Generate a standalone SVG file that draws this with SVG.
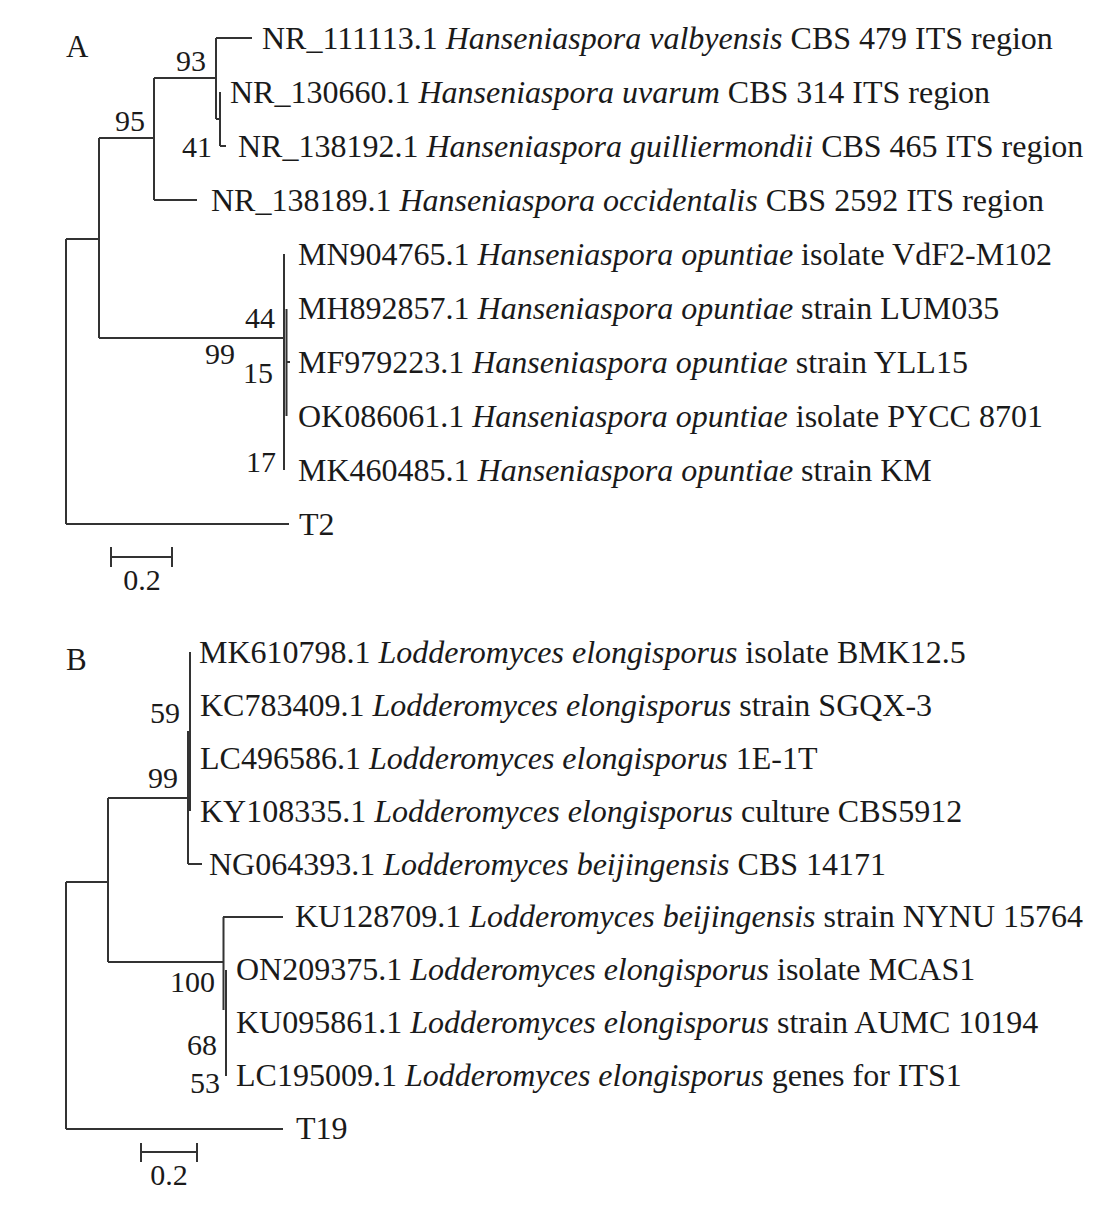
<svg xmlns="http://www.w3.org/2000/svg" width="1099" height="1208" viewBox="0 0 1099 1208">
<style>
text{font-family:"Liberation Serif","Times New Roman",serif;fill:#1a1a1a}
.lab{font-size:32px}
.bs{font-size:30px;text-anchor:end}
.pn{font-size:31px}
.sc{font-size:30px;text-anchor:middle}
.i{font-style:italic}
#edgesA path,#edgesB path,.bar path{fill:none;stroke:#333;stroke-width:2}
</style>
<rect width="1099" height="1208" fill="#fff"/>
<text class="pn" x="66" y="57">A</text>
<g id="edgesA">
<path d="M66,239V524M66,239H99M66,524H289"/>
<path d="M99,138V338M99,138H154M99,338H284"/>
<path d="M154,78V200M154,78H216M154,200H197"/>
<path d="M216,38V119M216,38H252M216,119H220"/>
<path d="M220,92V146M220,146H226"/>
<path d="M284,254V470"/>
<path d="M286.5,309V416M286,362H290"/>
</g>
<g id="nodesA">
<g id="a1"><text class="lab" x="262" y="48.5">NR_111113.1 <tspan class="i">Hanseniaspora valbyensis</tspan> CBS 479 ITS region</text></g>
<g id="a2"><text class="lab" x="230" y="102.5">NR_130660.1 <tspan class="i">Hanseniaspora uvarum</tspan> CBS 314 ITS region</text></g>
<g id="a3"><text class="lab" x="238" y="156.5">NR_138192.1 <tspan class="i">Hanseniaspora guilliermondii</tspan> CBS 465 ITS region</text></g>
<g id="a4"><text class="lab" x="211" y="210.5">NR_138189.1 <tspan class="i">Hanseniaspora occidentalis</tspan> CBS 2592 ITS region</text></g>
<g id="a5"><text class="lab" x="298" y="265">MN904765.1 <tspan class="i">Hanseniaspora opuntiae</tspan> isolate VdF2-M102</text></g>
<g id="a6"><text class="lab" x="298" y="319">MH892857.1 <tspan class="i">Hanseniaspora opuntiae</tspan> strain LUM035</text></g>
<g id="a7"><text class="lab" x="298" y="373">MF979223.1 <tspan class="i">Hanseniaspora opuntiae</tspan> strain YLL15</text></g>
<g id="a8"><text class="lab" x="298" y="427">OK086061.1 <tspan class="i">Hanseniaspora opuntiae</tspan> isolate PYCC 8701</text></g>
<g id="a9"><text class="lab" x="298" y="481">MK460485.1 <tspan class="i">Hanseniaspora opuntiae</tspan> strain KM</text></g>
<g id="a10"><text class="lab" x="299" y="535">T2</text></g>
</g>
<g id="supportA">
<text class="bs" x="206" y="71">93</text>
<text class="bs" x="145" y="131">95</text>
<text class="bs" x="212" y="157">41</text>
<text class="bs" x="275" y="328">44</text>
<text class="bs" x="235" y="364">99</text>
<text class="bs" x="273" y="383">15</text>
<text class="bs" x="276" y="472">17</text>
</g>
<g id="scaleA" class="bar">
<path d="M111,557H172M111,547V567M172,547V567"/>
<text class="sc" x="142" y="590">0.2</text>
</g>

<text class="pn" x="66" y="670">B</text>
<g id="edgesB">
<path d="M66,882V1129M66,882H108M66,1129H283"/>
<path d="M108,798V962M108,798H188M108,962H223"/>
<path d="M188,731V864M188,864H202"/>
<path d="M190,652V811"/>
<path d="M223.5,917V1010M223,917H283"/>
<path d="M226,970V1076"/>
</g>
<g id="nodesB">
<g id="b1"><text class="lab" x="199" y="663">MK610798.1 <tspan class="i">Lodderomyces elongisporus</tspan> isolate BMK12.5</text></g>
<g id="b2"><text class="lab" x="200" y="716">KC783409.1 <tspan class="i">Lodderomyces elongisporus</tspan> strain SGQX-3</text></g>
<g id="b3"><text class="lab" x="200" y="769">LC496586.1 <tspan class="i">Lodderomyces elongisporus</tspan> 1E-1T</text></g>
<g id="b4"><text class="lab" x="200" y="822">KY108335.1 <tspan class="i">Lodderomyces elongisporus</tspan> culture CBS5912</text></g>
<g id="b5"><text class="lab" x="209" y="875">NG064393.1 <tspan class="i">Lodderomyces beijingensis</tspan> CBS 14171</text></g>
<g id="b6"><text class="lab" x="295" y="927">KU128709.1 <tspan class="i">Lodderomyces beijingensis</tspan> strain NYNU 15764</text></g>
<g id="b7"><text class="lab" x="236" y="980">ON209375.1 <tspan class="i">Lodderomyces elongisporus</tspan> isolate MCAS1</text></g>
<g id="b8"><text class="lab" x="236" y="1033">KU095861.1 <tspan class="i">Lodderomyces elongisporus</tspan> strain AUMC 10194</text></g>
<g id="b9"><text class="lab" x="236" y="1086">LC195009.1 <tspan class="i">Lodderomyces elongisporus</tspan> genes for ITS1</text></g>
<g id="b10"><text class="lab" x="296" y="1139">T19</text></g>
</g>
<g id="supportB">
<text class="bs" x="180" y="723">59</text>
<text class="bs" x="178" y="788">99</text>
<text class="bs" x="215" y="992">100</text>
<text class="bs" x="217" y="1055">68</text>
<text class="bs" x="220" y="1093">53</text>
</g>
<g id="scaleB" class="bar">
<path d="M141,1152H197M141,1143V1162M197,1143V1162"/>
<text class="sc" x="169" y="1185">0.2</text>
</g>
</svg>
